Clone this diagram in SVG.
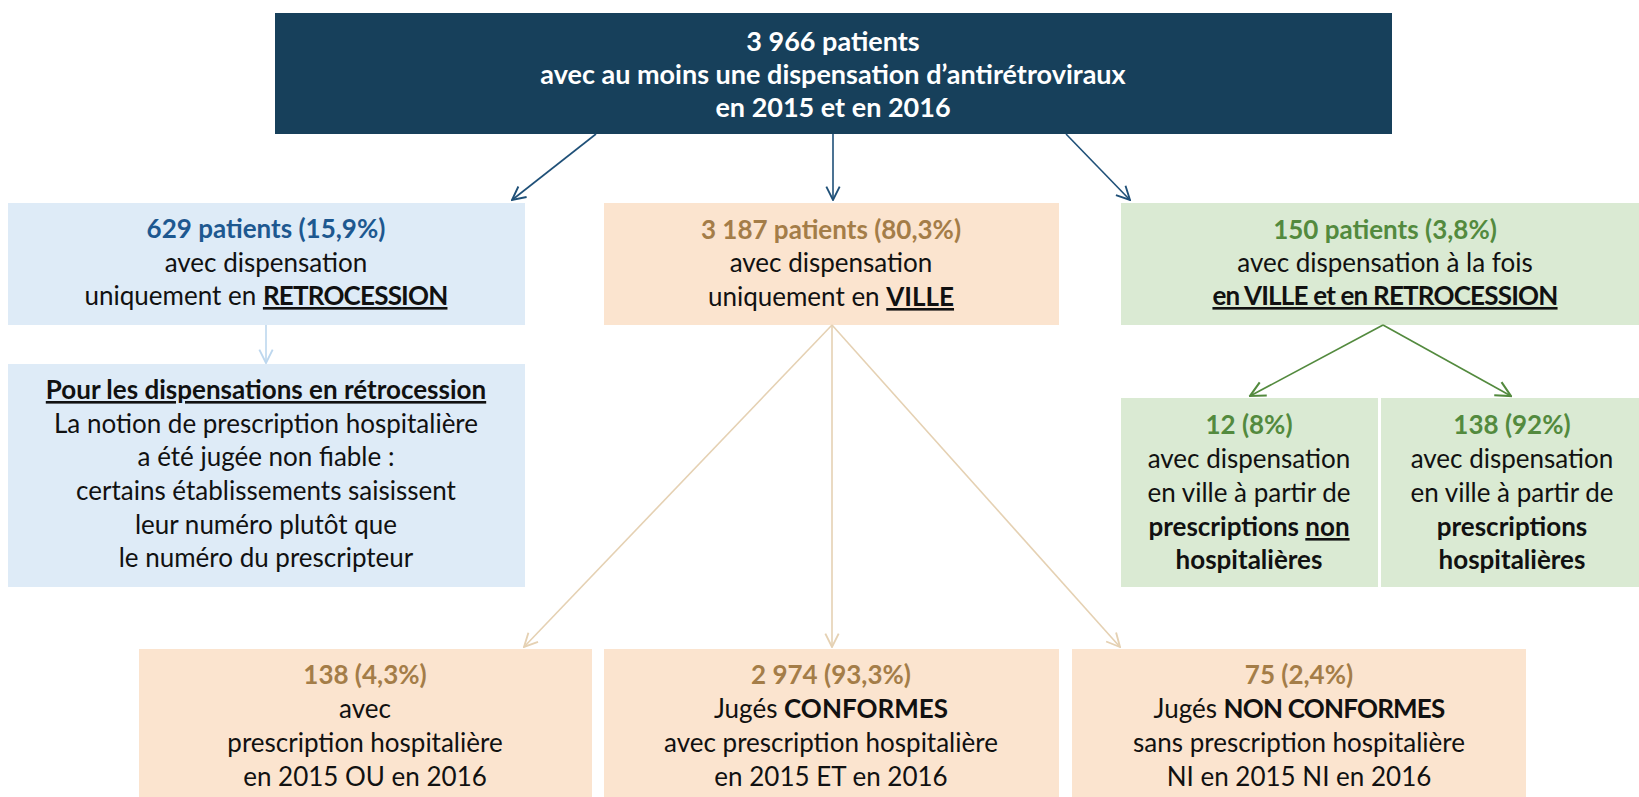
<svg xmlns="http://www.w3.org/2000/svg" width="1639" height="797" viewBox="0 0 1639 797">
<style>
text{font-family:Lato,"Liberation Sans",sans-serif;font-size:26px;text-anchor:middle;fill:#111}
.b{font-weight:bold}
.u{text-decoration:underline}
.k{letter-spacing:-0.8px}
.w{fill:#fff;font-weight:bold;font-size:27px}
.tb{fill:#1D5890;font-weight:bold}
.tp{fill:#A47D48;font-weight:bold}
.tg{fill:#538A3E;font-weight:bold}
.navy{fill:#17405B}
.blue{fill:#DEEBF7}
.peach{fill:#FBE4CF}
.green{fill:#DAEAD3}
.c{fill:none;stroke-width:1.6}
</style>
<defs>
<marker id="mN" viewBox="0 0 12 12" refX="11" refY="6" markerWidth="16" markerHeight="16" markerUnits="userSpaceOnUse" orient="auto"><path d="M1,1 L11,6 L1,11" fill="none" stroke="#1F5078" stroke-width="1.4"/></marker>
<marker id="mB" viewBox="0 0 12 12" refX="11" refY="6" markerWidth="16" markerHeight="16" markerUnits="userSpaceOnUse" orient="auto"><path d="M1,1 L11,6 L1,11" fill="none" stroke="#BDD7EE" stroke-width="1.4"/></marker>
<marker id="mP" viewBox="0 0 12 12" refX="11" refY="6" markerWidth="16" markerHeight="16" markerUnits="userSpaceOnUse" orient="auto"><path d="M1,1 L11,6 L1,11" fill="none" stroke="#E5D1B3" stroke-width="1.4"/></marker>
<marker id="mG" viewBox="0 0 12 12" refX="11" refY="6" markerWidth="18" markerHeight="18" markerUnits="userSpaceOnUse" orient="auto"><path d="M1,1 L11,6 L1,11" fill="none" stroke="#538A3E" stroke-width="1.4"/></marker>
</defs>

<g id="top">
<rect class="navy" x="275" y="13" width="1117" height="121"/>
<text class="w" x="833" y="51">3 966 patients</text>
<text class="w" x="833" y="84">avec au moins une dispensation d’antirétroviraux</text>
<text class="w" x="833" y="117">en 2015 et en 2016</text>
</g>

<g id="retro">
<rect class="blue" x="8" y="203" width="517" height="122"/>
<text class="tb" x="266" y="238">629 patients (15,9%)</text>
<text x="266" y="272">avec dispensation</text>
<text x="266" y="305">uniquement en <tspan class="b u k">RETROCESSION</tspan></text>
</g>

<g id="retro-note">
<rect class="blue" x="8" y="364" width="517" height="223"/>
<text class="b u" x="266" y="399">Pour les dispensations en rétrocession</text>
<text x="266" y="433">La notion de prescription hospitalière</text>
<text x="266" y="466">a été jugée non fiable :</text>
<text x="266" y="500">certains établissements saisissent</text>
<text x="266" y="534">leur numéro plutôt que</text>
<text x="266" y="567">le numéro du prescripteur</text>
</g>

<g id="ville">
<rect class="peach" x="604" y="203" width="455" height="122"/>
<text class="tp" x="831" y="239">3 187 patients (80,3%)</text>
<text x="831" y="272">avec dispensation</text>
<text x="831" y="306">uniquement en <tspan class="b u">VILLE</tspan></text>
</g>

<g id="mixte">
<rect class="green" x="1121" y="203" width="518" height="122"/>
<text class="tg" x="1385" y="239">150 patients (3,8%)</text>
<text x="1385" y="272">avec dispensation à la fois</text>
<text class="b u k" x="1385" y="305">en VILLE et en RETROCESSION</text>
</g>

<g id="mixte-non">
<rect class="green" x="1121" y="398" width="257" height="189"/>
<text class="tg" x="1249" y="434">12 (8%)</text>
<text x="1249" y="468">avec dispensation</text>
<text x="1249" y="502">en ville à partir de</text>
<text class="b" x="1249" y="536">prescriptions <tspan class="u">non</tspan></text>
<text class="b" x="1249" y="569">hospitalières</text>
</g>

<g id="mixte-hosp">
<rect class="green" x="1381" y="398" width="258" height="189"/>
<text class="tg" x="1512" y="434">138 (92%)</text>
<text x="1512" y="468">avec dispensation</text>
<text x="1512" y="502">en ville à partir de</text>
<text class="b" x="1512" y="536">prescriptions</text>
<text class="b" x="1512" y="569">hospitalières</text>
</g>

<g id="ou">
<rect class="peach" x="139" y="649" width="453" height="148"/>
<text class="tp" x="365" y="684">138 (4,3%)</text>
<text x="365" y="718">avec</text>
<text x="365" y="752">prescription hospitalière</text>
<text x="365" y="786">en 2015 OU en 2016</text>
</g>

<g id="conformes">
<rect class="peach" x="604" y="649" width="455" height="148"/>
<text class="tp" x="831" y="684">2 974 (93,3%)</text>
<text x="831" y="718">Jugés <tspan class="b">CONFORMES</tspan></text>
<text x="831" y="752">avec prescription hospitalière</text>
<text x="831" y="786">en 2015 ET en 2016</text>
</g>

<g id="non-conformes">
<rect class="peach" x="1072" y="649" width="454" height="148"/>
<text class="tp" x="1299" y="684">75 (2,4%)</text>
<text x="1299" y="718">Jugés <tspan class="b k">NON CONFORMES</tspan></text>
<text x="1299" y="752">sans prescription hospitalière</text>
<text x="1299" y="786">NI en 2015 NI en 2016</text>
</g>

<g id="connectors">
<line class="c" stroke="#1F5078" x1="596" y1="134" x2="512" y2="200" marker-end="url(#mN)"/>
<line class="c" stroke="#1F5078" x1="833" y1="134" x2="833" y2="200" marker-end="url(#mN)"/>
<line class="c" stroke="#1F5078" x1="1066" y1="134" x2="1130" y2="200" marker-end="url(#mN)"/>
<line class="c" stroke="#BDD7EE" x1="266" y1="325" x2="266" y2="363" marker-end="url(#mB)"/>
<line class="c" stroke="#E5D1B3" x1="832" y1="325" x2="524" y2="647" marker-end="url(#mP)"/>
<line class="c" stroke="#E5D1B3" x1="832" y1="325" x2="832" y2="647" marker-end="url(#mP)"/>
<line class="c" stroke="#E5D1B3" x1="832" y1="325" x2="1120" y2="647" marker-end="url(#mP)"/>
<line class="c" stroke="#538A3E" stroke-width="2" x1="1383" y1="325" x2="1250" y2="396" marker-end="url(#mG)"/>
<line class="c" stroke="#538A3E" stroke-width="2" x1="1383" y1="325" x2="1511" y2="396" marker-end="url(#mG)"/>
</g>
</svg>
